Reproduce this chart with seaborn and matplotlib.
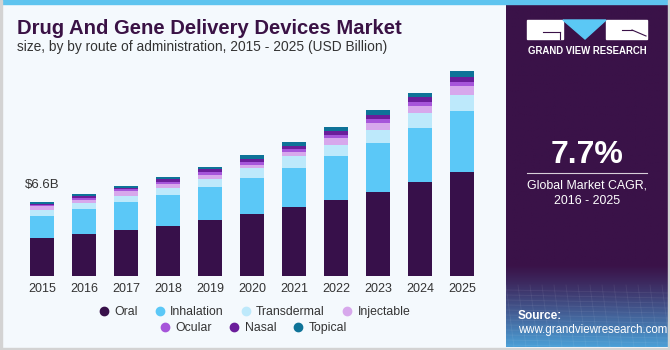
import numpy as np
import pandas as pd
import seaborn as sns
import matplotlib
matplotlib.use('Agg')
from matplotlib import pyplot as plt
from matplotlib.lines import Line2D
from matplotlib.patches import Rectangle, Polygon

# 데이터 (USD Billion, 그림에서 읽은 값)
years = ['2015', '2016', '2017', '2018', '2019', '2020', '2021', '2022', '2023', '2024', '2025']
oral = [3.37, 3.76, 4.12, 4.50, 4.99, 5.55, 6.20, 6.78, 7.52, 8.44, 9.31]
inhalation = [2.02, 2.21, 2.48, 2.72, 2.98, 3.20, 3.49, 3.97, 4.41, 4.81, 5.46]
transdermal = [0.54, 0.54, 0.60, 0.68, 0.74, 0.92, 1.02, 1.01, 1.14, 1.32, 1.43]
injectable = [0.30, 0.30, 0.40, 0.36, 0.36, 0.30, 0.39, 0.60, 0.65, 0.68, 0.78]
ocular = [0.12, 0.15, 0.15, 0.18, 0.24, 0.24, 0.27, 0.27, 0.33, 0.36, 0.38]
nasal = [0.12, 0.18, 0.15, 0.21, 0.24, 0.27, 0.30, 0.36, 0.33, 0.42, 0.47]
topical = [0.12, 0.18, 0.16, 0.18, 0.23, 0.36, 0.33, 0.36, 0.45, 0.33, 0.51]

segments = ['Oral', 'Inhalation', 'Transdermal', 'Injectable', 'Ocular', 'Nasal', 'Topical']
colors = ['#37104a', '#5bc8f7', '#bde9fb', '#d7a8ec', '#a655da', '#6b1e9b', '#0e7398']
first_label = '$6.6B'
cagr = '7.7%'

df = pd.DataFrame({'year': years, 'Oral': oral, 'Inhalation': inhalation,
                   'Transdermal': transdermal, 'Injectable': injectable,
                   'Ocular': ocular, 'Nasal': nasal, 'Topical': topical})
cum = df[segments].cumsum(axis=1)
cum['year'] = df['year']

bg = '#f4f9fd'
W, H = 670, 350
fig = plt.figure(figsize=(6.7, 3.5), dpi=100, facecolor=bg)
plt.rcParams['font.family'] = ['Liberation Sans', 'DejaVu Sans']

ax = fig.add_axes([21 / W, 1 - 276 / H, 462 / W, 223.4 / H])
ax.set_facecolor(bg)

# 누적 막대: 위 층부터 그려서 쌓기
for seg, col in reversed(list(zip(segments, colors))):
    sns.barplot(data=cum, x='year', y=seg, color=col, saturation=1, width=0.57,
                ax=ax, edgecolor='none')

ax.set_ylim(0, 20)
ax.set_xlim(-0.5, len(years) - 0.5)
ax.set_xlabel('')
ax.set_ylabel('')
ax.set_yticks([])
ax.tick_params(axis='x', length=0, labelsize=9, labelcolor='#333333', pad=5)
for s in ax.spines.values():
    s.set_visible(False)

ax.annotate(first_label, xy=(0, cum['Topical'].iloc[0]), xytext=(0, 8),
            textcoords='offset points', ha='center', va='bottom',
            fontsize=9.5, color='#333333')

# 제목
fig.text(17 / W, 1 - 28 / H, 'Drug And Gene Delivery Devices Market', fontsize=14.6,
         fontweight='bold', color='#3a1245', va='center')
fig.text(17 / W, 1 - 47 / H, 'size, by by route of administration, 2015 - 2025 (USD Billion)',
         fontsize=9.9, color='#333333', va='center')

# 범례 (두 줄)
def handles(names, cols):
    return [Line2D([], [], marker='o', linestyle='', markersize=6, color=c, label=n)
            for n, c in zip(names, cols)]

leg_kw = dict(loc='center', frameon=False, fontsize=8.8, handletextpad=0.35,
              columnspacing=1.3, handlelength=1)
leg1 = fig.legend(handles=handles(segments[:4], colors[:4]), ncol=4,
                  bbox_to_anchor=(254 / W, 1 - 312 / H), **leg_kw)
leg2 = fig.legend(handles=handles(segments[4:], colors[4:]), ncol=3,
                  bbox_to_anchor=(253 / W, 1 - 328 / H), **leg_kw)
for lg in (leg1, leg2):
    for t in lg.get_texts():
        t.set_color('#333333')

# 오른쪽 패널
pax = fig.add_axes([506 / W, 1 - 347 / H, 162 / W, 343 / H])
pax.set_xlim(506, 668)
pax.set_ylim(347, 4)
pax.axis('off')
top_c = np.array([58, 18, 72]) / 255
bot_c = np.array([75, 160, 215]) / 255
ys = np.linspace(0, 1, 300)
mix = np.clip((ys - 0.76) / 0.24, 0, 1) ** 1.2
grad = top_c[None, :] * (1 - mix[:, None]) + bot_c[None, :] * mix[:, None]
pax.imshow(np.repeat(grad[:, None, :], 10, axis=1), extent=(506, 668, 347, 4),
           aspect='auto', zorder=0)
for k in range(12):
    yy = 290 + k * 5
    pax.plot([506, 668], [yy, yy + 3], color='white', alpha=0.07, lw=0.6)
for k in range(14):
    xx = 506 + k * 12
    pax.plot([xx, xx + 8], [285, 347], color='white', alpha=0.07, lw=0.6)

# 로고
pax.add_patch(Rectangle((527, 20), 36, 19, color='white', zorder=2))
pax.add_patch(Rectangle((606, 20), 41, 19, color='white', zorder=2))
pax.add_patch(Polygon([(563, 20), (606, 20), (585, 39)], color='#5bc8f5', zorder=2))
pax.plot([543, 560], [32, 32], color='#3a1248', lw=0.8, zorder=3)
pax.plot([560, 560], [32, 39], color='#3a1248', lw=0.8, zorder=3)
pax.plot([632, 646], [30, 36], color='#3a1248', lw=0.8, zorder=3)
pax.plot([622, 632], [30, 30], color='#3a1248', lw=0.8, zorder=3)
pax.text(587, 51, 'GRAND VIEW RESEARCH', color='white', fontsize=6.9,
         fontweight='bold', ha='center', va='center')

pax.text(587, 155, cagr, color='white', fontsize=23, fontweight='bold',
         ha='center', va='center')
pax.plot([527, 647], [173, 173], color='white', lw=0.8, alpha=0.8)
pax.text(587, 185, 'Global Market CAGR,', color='white', fontsize=8.9,
         ha='center', va='center')
pax.text(587, 201, '2016 - 2025', color='white', fontsize=8.9,
         ha='center', va='center')
pax.text(518, 316, 'Source:', color='white', fontsize=8.6, fontweight='bold',
         ha='left', va='center')
pax.text(518, 330, 'www.grandviewresearch.com', color='white', fontsize=8.3,
         ha='left', va='center')

# 테두리
fig.patches.append(Rectangle((0, 1 - 4 / H), 1, 4 / H, transform=fig.transFigure,
                             color='#5ec4ef', zorder=5))
fig.patches.append(Rectangle((0, 0), 1, 2.5 / H, transform=fig.transFigure,
                             color='#d3d3d3', zorder=5))
fig.patches.append(Rectangle((0, 0), 1.5 / W, 1, transform=fig.transFigure,
                             color='#d3d3d3', zorder=5))
fig.patches.append(Rectangle((1 - 2 / W, 0), 2 / W, 1, transform=fig.transFigure,
                             color='#d3d3d3', zorder=5))

fig.savefig('out.png', dpi=100, facecolor=bg)
